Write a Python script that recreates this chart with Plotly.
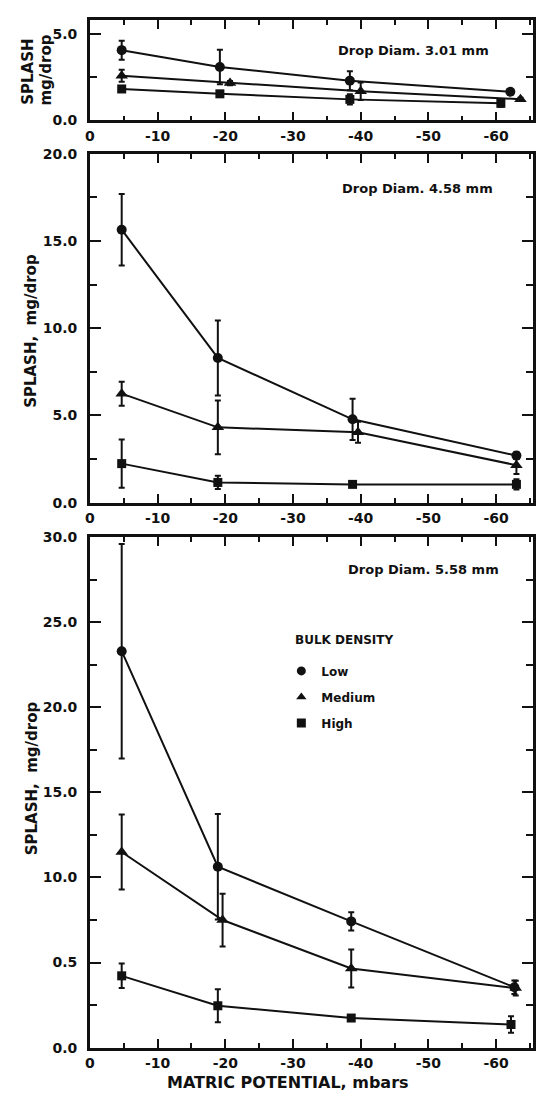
import plotly.graph_objects as go

# Matric potential axis (mbars)
potential_ticks = [0, -10, -20, -30, -40, -50, -60]
potential_labels = ["0", "-10", "-20", "-30", "-40", "-50", "-60"]

# --- Drop diameter 3.01 mm ---
d301_low_x = [-4.7, -19.2, -38.4, -62.1]
d301_low_y = [4.05, 3.08, 2.29, 1.65]
d301_low_err = [0.55, 1.0, 0.55, 0.1]
d301_med_x = [-4.7, -20.7, -40.0, -63.6]
d301_med_y = [2.57, 2.15, 1.68, 1.22]
d301_med_err = [0.35, 0.12, 0.5, 0.08]
d301_high_x = [-4.7, -19.2, -38.4, -60.7]
d301_high_y = [1.81, 1.53, 1.21, 0.98]
d301_high_err = [0.15, 0.12, 0.3, 0.2]
d301_yticks = [0, 5]
d301_ylabels = ["0.0", "5.0"]

# --- Drop diameter 4.58 mm ---
d458_low_x = [-4.7, -18.9, -38.8, -63.0]
d458_low_y = [15.65, 8.3, 4.78, 2.70]
d458_low_err = [2.05, 2.15, 1.18, 0.2]
d458_med_x = [-4.7, -18.9, -39.6, -63.0]
d458_med_y = [6.25, 4.32, 4.04, 2.15]
d458_med_err = [0.69, 1.54, 0.6, 0.5]
d458_high_x = [-4.7, -18.9, -38.8, -63.0]
d458_high_y = [2.24, 1.16, 1.05, 1.05]
d458_high_err = [1.38, 0.38, 0.1, 0.3]
d458_yticks = [0, 5, 10, 15, 20]
d458_ylabels = ["0.0", "5.0", "10.0", "15.0", "20.0"]

# --- Drop diameter 5.58 mm ---
d558_low_x = [-4.7, -18.9, -38.6, -62.7]
d558_low_y = [23.3, 10.63, 7.42, 3.55]
d558_low_err = [6.3, 3.1, 0.54, 0.4]
d558_med_x = [-4.7, -19.6, -38.6, -62.9]
d558_med_y = [11.5, 7.5, 4.65, 3.5]
d558_med_err = [2.2, 1.55, 1.12, 0.43]
d558_high_x = [-4.7, -18.9, -38.6, -62.2]
d558_high_y = [4.22, 2.46, 1.74, 1.36]
d558_high_err = [0.72, 0.97, 0.08, 0.48]
d558_yticks = [0, 5, 10, 15, 20, 25, 30]
d558_ylabels = ["0.0", "0.5", "10.0", "15.0", "20.0", "25.0", "30.0"]

density_names = ["Low", "Medium", "High"]
density_symbols = ["circle", "triangle-up", "square"]
density_sizes = [10, 11, 9]

FONT = "DejaVu Sans"
INK = "#111111"

panels = [
    ("x", "y", [(d301_low_x, d301_low_y, d301_low_err),
                (d301_med_x, d301_med_y, d301_med_err),
                (d301_high_x, d301_high_y, d301_high_err)]),
    ("x2", "y2", [(d458_low_x, d458_low_y, d458_low_err),
                  (d458_med_x, d458_med_y, d458_med_err),
                  (d458_high_x, d458_high_y, d458_high_err)]),
    ("x3", "y3", [(d558_low_x, d558_low_y, d558_low_err),
                  (d558_med_x, d558_med_y, d558_med_err),
                  (d558_high_x, d558_high_y, d558_high_err)]),
]

fig = go.Figure()
for xa, ya, series in panels:
    for k, (sx, sy, se) in enumerate(series):
        fig.add_trace(go.Scatter(
            x=sx, y=sy, xaxis=xa, yaxis=ya, mode="lines+markers",
            line=dict(color=INK, width=2),
            marker=dict(symbol=density_symbols[k], size=density_sizes[k], color=INK),
            error_y=dict(type="data", array=se, visible=True, color=INK,
                         thickness=2, width=3),
            showlegend=False, cliponaxis=False,
        ))

# Legend entries (markers only)
for k, name in enumerate(density_names):
    fig.add_trace(go.Scatter(
        x=[None], y=[None], xaxis="x3", yaxis="y3", mode="markers", name=name,
        marker=dict(symbol=density_symbols[k], size=9, color=INK),
        legendgroup=name, showlegend=True,
    ))

tickfont = dict(family=FONT, size=14, color=INK, weight="bold")
x_dom = [86 / 536, 535 / 536]


def xaxis(anchor):
    return dict(
        domain=x_dom, anchor=anchor, range=[0, -65.45],
        tickmode="array", tickvals=potential_ticks, ticktext=potential_labels,
        ticks="inside", ticklen=9, tickwidth=2, tickcolor=INK,
        showline=True, linewidth=2.5, linecolor=INK, mirror="allticks",
        showgrid=False, zeroline=False, tickfont=tickfont, ticklabelstandoff=1,
        minor=dict(ticks="inside", dtick=5, tick0=0, ticklen=5, tickwidth=2,
                   tickcolor=INK, showgrid=False),
    )


def yaxis(anchor, dom, rng, tv, tt, minor_dtick):
    return dict(
        domain=dom, anchor=anchor, range=rng,
        tickmode="array", tickvals=tv, ticktext=tt,
        ticks="inside", ticklen=11, tickwidth=2, tickcolor=INK,
        showline=True, linewidth=2.5, linecolor=INK, mirror="allticks",
        showgrid=False, zeroline=False, tickfont=tickfont, ticklabelstandoff=7,
        minor=dict(ticks="inside", dtick=minor_dtick, tick0=0, ticklen=7,
                   tickwidth=2, tickcolor=INK, showgrid=False),
    )


H = 1099
fig.update_layout(
    width=536, height=H,
    margin=dict(l=0, r=0, t=0, b=0),
    paper_bgcolor="white", plot_bgcolor="white",
    xaxis=xaxis("y"),
    xaxis2=xaxis("y2"),
    xaxis3=xaxis("y3"),
    yaxis=yaxis("x", [1 - 114 / H, 1 - 12 / H], [0, 5.8], d301_yticks, d301_ylabels, 2.5),
    yaxis2=yaxis("x2", [1 - 502 / H, 1 - 148 / H], [0, 20.0], d458_yticks, d458_ylabels, 2.5),
    yaxis3=yaxis("x3", [1 - 1055 / H, 1 - 537 / H], [0, 30.0], d558_yticks, d558_ylabels, 2.5),
    legend=dict(
        x=280 / 536, y=1 - 658 / H, xanchor="left", yanchor="top",
        bgcolor="rgba(0,0,0,0)", borderwidth=0,
        font=dict(family=FONT, size=12, color=INK, weight="bold"),
        tracegroupgap=7, itemwidth=30,
    ),
)

label_font = dict(family=FONT, size=13, color=INK, weight="bold")
title_font = dict(family=FONT, size=15, color=INK, weight="bold")


def note(text, x, y, xref, yref, font, angle=0, xanchor="center"):
    fig.add_annotation(x=x, y=y, xref=xref, yref=yref, text=text, textangle=angle,
                       showarrow=False, font=font, xanchor=xanchor, yanchor="middle")


# Drop diameter labels
note("Drop Diam. 3.01 mm", -47.8, 4.03, "x", "y", label_font)
note("Drop Diam. 4.58 mm", -48.4, 18.0, "x2", "y2", label_font)
note("Drop Diam. 5.58 mm", -49.3, 28.1, "x3", "y3", label_font)

# Legend heading
note("BULK DENSITY", 292 / 536, 1 - 641 / H, "paper", "paper",
     dict(family=FONT, size=12, color=INK, weight="bold"), xanchor="left")

# Axis titles
note("SPLASH", 23 / 536, 1 - 65 / H, "paper", "paper", title_font, angle=-90)
note("mg/drop", 42 / 536, 1 - 63 / H, "paper", "paper", title_font, angle=-90)
note("SPLASH,  mg/drop", 27 / 536, 1 - 328 / H, "paper", "paper", title_font, angle=-90)
note("SPLASH,  mg/drop", 27 / 536, 1 - 782 / H, "paper", "paper", title_font, angle=-90)
note("MATRIC POTENTIAL, mbars", 287 / 536, 1 - 1090 / H, "paper", "paper",
     dict(family=FONT, size=16, color=INK, weight="bold"))

fig.write_html("out.html")
